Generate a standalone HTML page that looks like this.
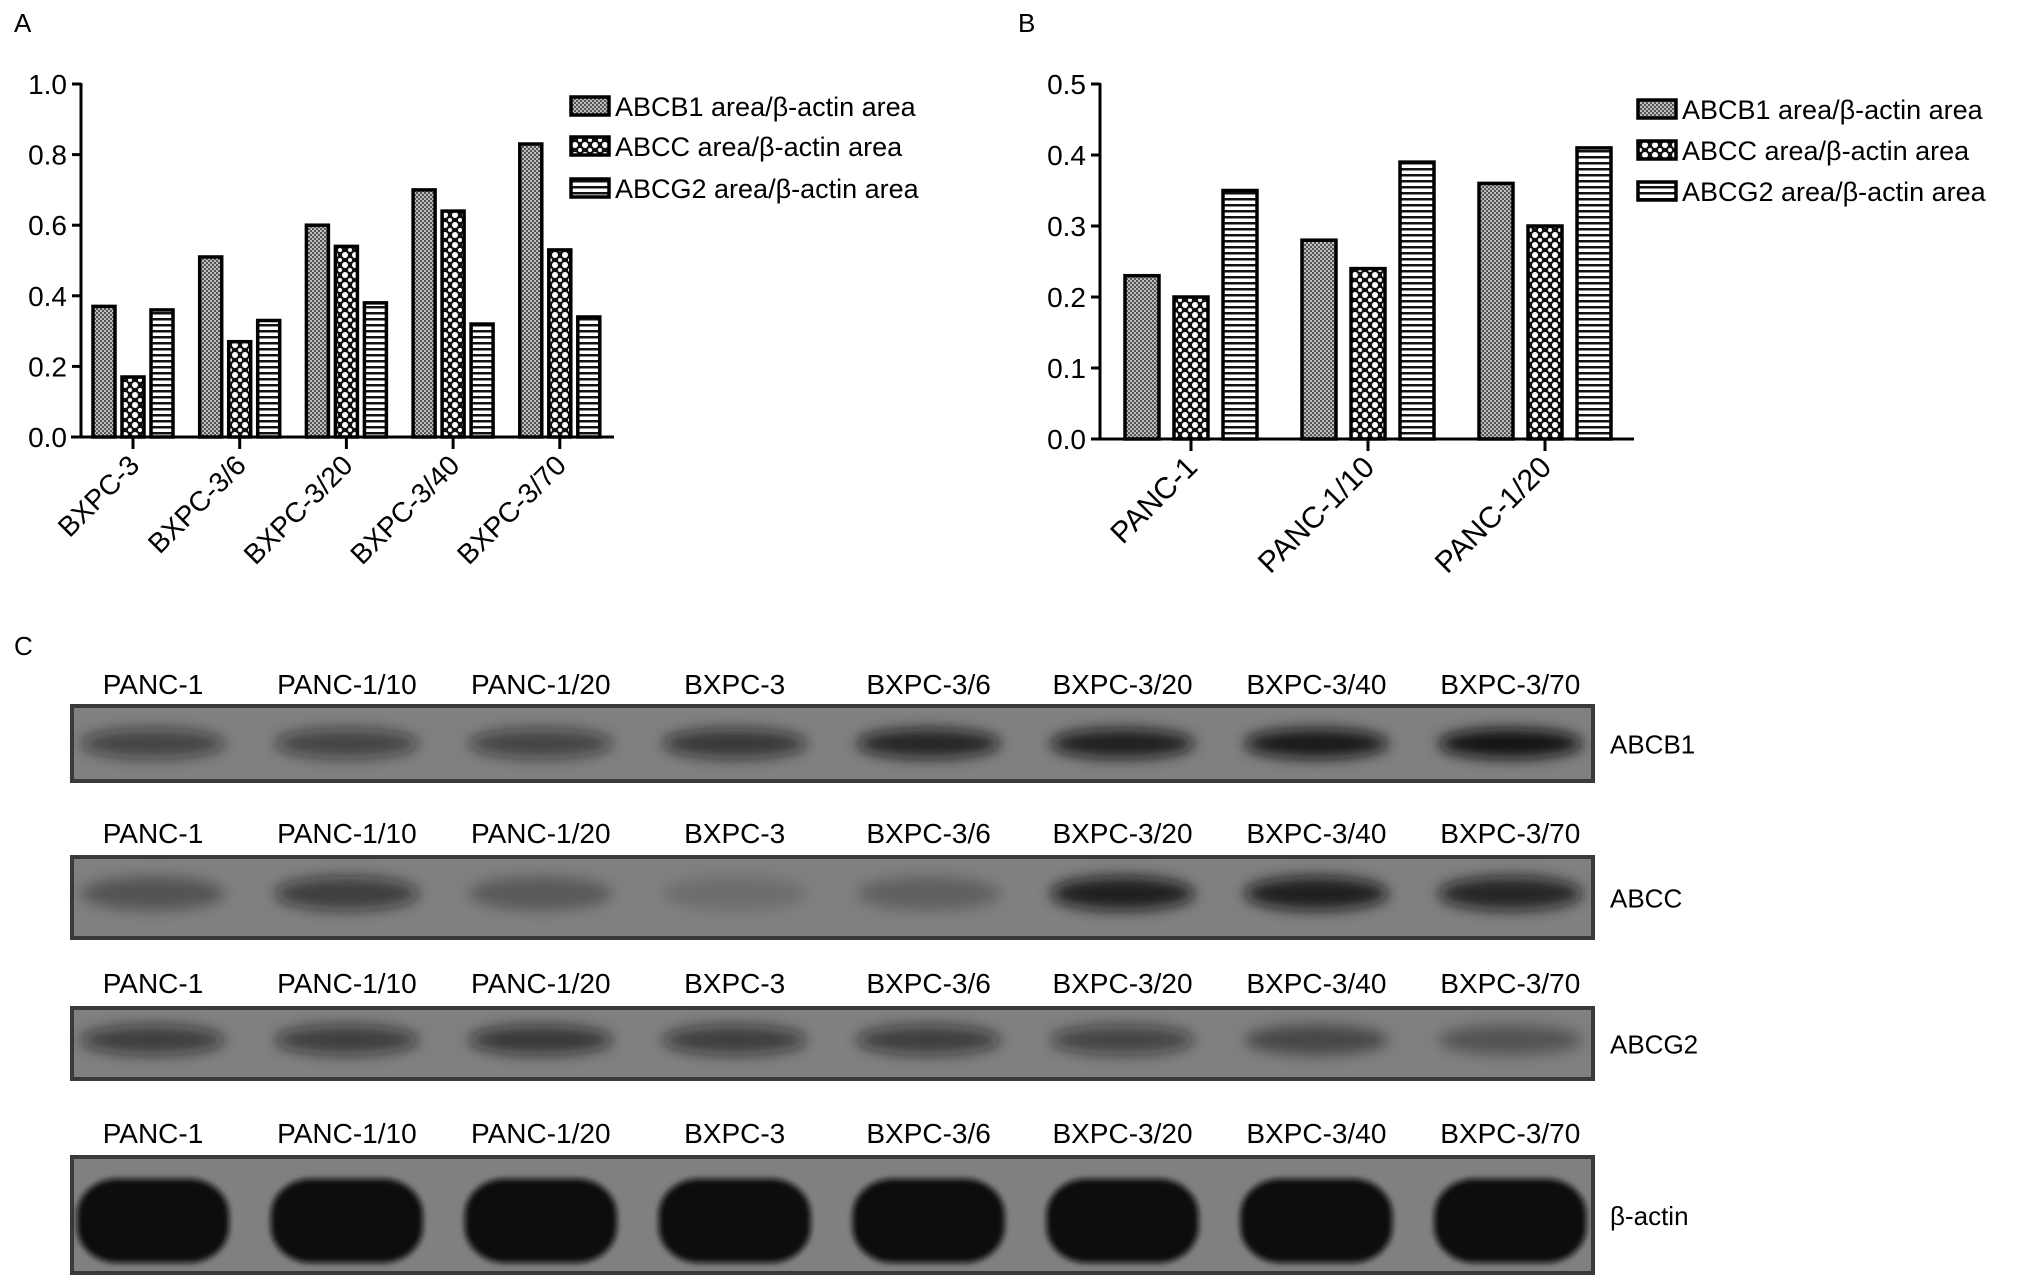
<!DOCTYPE html>
<html><head><meta charset="utf-8">
<style>
html,body{margin:0;padding:0;background:#fff;}
svg{display:block;font-family:"Liberation Sans",sans-serif;}
</style></head>
<body>
<svg id="fig" width="2028" height="1285" viewBox="0 0 2028 1285" xmlns="http://www.w3.org/2000/svg">
<defs>
 <pattern id="pB1" width="4" height="4" patternUnits="userSpaceOnUse">
  <rect width="4" height="4" fill="#bdbdbd"/><rect width="2" height="2" fill="#555"/><rect x="2" y="2" width="2" height="2" fill="#555"/>
 </pattern>
 <pattern id="pC" width="10" height="10" patternUnits="userSpaceOnUse">
  <rect width="10" height="10" fill="#111"/><circle cx="5" cy="5" r="3" fill="#fff"/><circle cx="0" cy="0" r="2" fill="#fff"/><circle cx="10" cy="0" r="2" fill="#fff"/><circle cx="0" cy="10" r="2" fill="#fff"/><circle cx="10" cy="10" r="2" fill="#fff"/>
 </pattern>
 <pattern id="pG2" width="6" height="6" patternUnits="userSpaceOnUse">
  <rect width="6" height="6" fill="#fff"/><rect y="0" width="6" height="2.5" fill="#111"/>
 </pattern>
 <filter id="blur" x="-30%" y="-60%" width="160%" height="220%"><feGaussianBlur stdDeviation="7"/></filter>
 <filter id="blur2" x="-10%" y="-10%" width="120%" height="120%"><feGaussianBlur stdDeviation="3"/></filter>
</defs>
<g id="chartA"></g>
<g id="chartB"></g>
<g id="blots"></g>
</svg>
<script>
const seriesNames = ["ABCB1 area/\u03b2-actin area","ABCC area/\u03b2-actin area","ABCG2 area/\u03b2-actin area"];
const fills = ["url(#pB1)","url(#pC)","url(#pG2)"];
const catsA = ["BXPC-3","BXPC-3/6","BXPC-3/20","BXPC-3/40","BXPC-3/70"];
const abcb1A = [0.37,0.51,0.60,0.70,0.83];
const abccA = [0.17,0.27,0.54,0.64,0.53];
const abcg2A = [0.36,0.33,0.38,0.32,0.34];
const ticksA = ["0.0","0.2","0.4","0.6","0.8","1.0"];
const catsB = ["PANC-1","PANC-1/10","PANC-1/20"];
const abcb1B = [0.23,0.28,0.36];
const abccB = [0.20,0.24,0.30];
const abcg2B = [0.35,0.39,0.41];
const ticksB = ["0.0","0.1","0.2","0.3","0.4","0.5"];
const lanes = ["PANC-1","PANC-1/10","PANC-1/20","BXPC-3","BXPC-3/6","BXPC-3/20","BXPC-3/40","BXPC-3/70"];
const proteins = ["ABCB1","ABCC","ABCG2","\u03b2-actin"];
const intABCB1 = [0.55,0.55,0.55,0.65,0.8,0.85,0.9,0.95];
const intABCC = [0.35,0.6,0.3,0.15,0.25,0.85,0.85,0.8];
const intABCG2 = [0.6,0.6,0.65,0.6,0.6,0.55,0.45,0.35];
const intActin = [1,1,1,1,1,1,1,1];

const NS="http://www.w3.org/2000/svg";
function mk(parent,tag,attrs,text){const e=document.createElementNS(NS,tag);for(const k in attrs)e.setAttribute(k,attrs[k]);if(text!==undefined)e.textContent=text;parent.appendChild(e);return e;}

function drawChart(g,cfg){
  const y=v=>cfg.y0-(v/cfg.max)*(cfg.y0-cfg.y1);
  const series=[cfg.s1,cfg.s2,cfg.s3];
  const ya=mk(g,'line',{x1:cfg.ax,y1:cfg.y1-1,x2:cfg.ax,y2:cfg.y0,stroke:'#000','stroke-width':3});
  
  cfg.ticks.forEach((t,i)=>{
    const v=parseFloat(t);const yy=y(v);
    const tl=mk(g,'line',{x1:cfg.ax-9,y1:yy,x2:cfg.ax,y2:yy,stroke:'#000','stroke-width':3});
    
    const tx=mk(g,'text',{x:cfg.ax-14,y:yy+10,'font-size':28,'text-anchor':'end'},t);
    
  });
  cfg.cats.forEach((c,i)=>{
    const cx=cfg.c0+i*cfg.step;
    series.forEach((s,j)=>{
      const bx=cx+(j-1)*cfg.gap-cfg.bw/2;const top=y(s[i]);
      const r=mk(g,'rect',{x:bx,y:top,width:cfg.bw,height:cfg.y0-top,fill:fills[j],stroke:'#000','stroke-width':3.5});
      
      
    });
    const tk=mk(g,'line',{x1:cx,y1:cfg.y0,x2:cx,y2:cfg.y0+12,stroke:'#000','stroke-width':3});
    
    const lb=mk(g,'text',{x:cx+8,y:cfg.y0+30,'font-size':cfg.xfs,'text-anchor':'end',transform:`rotate(-45 ${cx+8} ${cfg.y0+30})`},c);
    
  });
  const xa=mk(g,'line',{x1:cfg.xs,y1:cfg.y0,x2:cfg.xe,y2:cfg.y0,stroke:'#000','stroke-width':3});
  
  seriesNames.forEach((n,j)=>{
    const ly=cfg.ly[j];
    const b=mk(g,'rect',{x:cfg.lx,y:ly-9,width:38,height:18,fill:fills[j],stroke:'#000','stroke-width':3.5});
    
    const t=mk(g,'text',{x:cfg.lx+44,y:ly+10,'font-size':27},n);
    
  });
  const p=mk(g,'text',{x:cfg.px,y:32,'font-size':26},cfg.panel);
  
}
drawChart(document.getElementById('chartA'),{cats:catsA,s1:abcb1A,s2:abccA,s3:abcg2A,ticks:ticksA,max:1.0,
  ax:81,y0:437,y1:84,c0:133,step:106.7,gap:29,bw:22,xs:71,xe:614,lx:571,ly:[106,146,188],px:14,panel:'A',xfs:28});
drawChart(document.getElementById('chartB'),{cats:catsB,s1:abcb1B,s2:abccB,s3:abcg2B,ticks:ticksB,max:0.5,
  ax:1100,y0:439,y1:84,c0:1191,step:177,gap:49,bw:34,xs:1091,xe:1634,lx:1638,ly:[109,150,191],px:1018,panel:'B',xfs:30});

const bg=document.getElementById('blots');
const pc=mk(bg,'text',{x:14,y:655,'font-size':26},'C');

const laneX=i=>153+i*193.9;
const blotRows=[{lab:684,y:706,h:75,ints:intABCB1,bh:30,ry:0.5},{lab:833,y:857,h:81,ints:intABCC,bh:34,ry:0.45},{lab:983,y:1008,h:71,ints:intABCG2,bh:30,ry:0.45},{lab:1133,y:1157,h:116,ints:intActin,bh:84,ry:0.55}];
blotRows.forEach((r,k)=>{
  lanes.forEach((l,i)=>{
    const t=mk(bg,'text',{x:laneX(i),y:r.lab+10,'font-size':28,'text-anchor':'middle'},l);
    
  });
  const b=mk(bg,'rect',{x:72,y:r.y,width:1521,height:r.h,fill:'#808080',stroke:'#3a3a3a','stroke-width':4});
  
  r.ints.forEach((v,i)=>{
    let e;
    if(k==3){
      e=mk(bg,'rect',{x:laneX(i)-76,y:r.y+r.h*r.ry-r.bh/2,width:152,height:r.bh,rx:40,ry:36,fill:'#0c0c0c','fill-opacity':v,filter:'url(#blur2)'});
    } else {
      e=mk(bg,'ellipse',{cx:laneX(i),cy:r.y+r.h*r.ry,rx:72,ry:r.bh/2,fill:'#0c0c0c','fill-opacity':v,filter:'url(#blur)'});
    }
    
    
  });
  const pl=mk(bg,'text',{x:1610,y:r.y+r.h/2+10,'font-size':26},proteins[k]);
  
});
</script>
</body></html>
